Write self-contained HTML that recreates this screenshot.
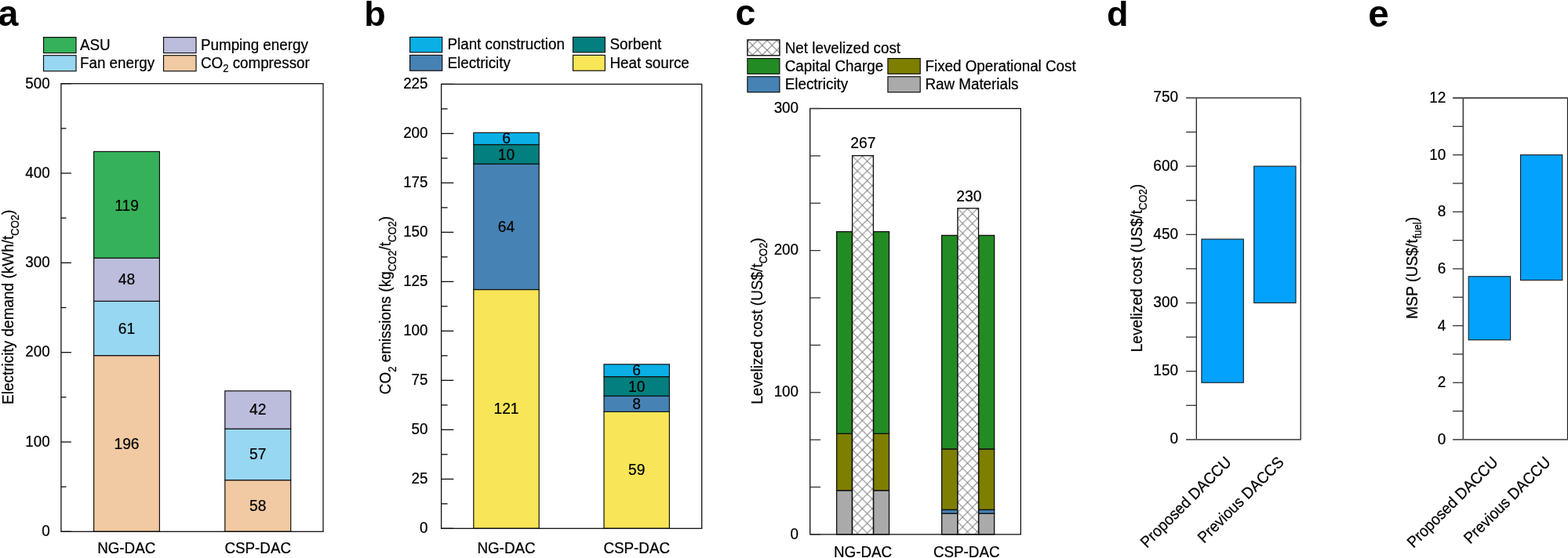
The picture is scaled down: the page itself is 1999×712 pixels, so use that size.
<!DOCTYPE html>
<html><head><meta charset="utf-8"><title>Figure</title>
<style>
html,body{margin:0;padding:0;background:#fff;width:1999px;height:712px;overflow:hidden;}
svg{display:block;font-family:'Liberation Sans', Arial, Helvetica, sans-serif;}
svg text{fill:#000;}
svg text:not([font-weight]){stroke:#000;stroke-width:0.22px;}
</style></head><body>
<svg width="1999" height="712" viewBox="0 0 1999 712">
<rect width="1999" height="712" fill="#fff"/>
<text x="-2.60" y="33.30" font-size="46.5" font-weight="bold" >a</text>
<text x="464.30" y="33.00" font-size="45" font-weight="bold" >b</text>
<text x="937.60" y="32.20" font-size="46.5" font-weight="bold" >c</text>
<text x="1411.00" y="33.30" font-size="45" font-weight="bold" >d</text>
<text x="1744.20" y="34.10" font-size="47.5" font-weight="bold" >e</text>
<rect x="55.50" y="47.60" width="41.50" height="20.00" fill="#35b159" stroke="#111" stroke-width="1.2" />
<rect x="55.50" y="70.70" width="41.50" height="20.00" fill="#98d7f1" stroke="#111" stroke-width="1.2" />
<rect x="208.50" y="47.60" width="41.50" height="20.00" fill="#bcbcdc" stroke="#111" stroke-width="1.2" />
<rect x="208.50" y="70.70" width="41.50" height="20.00" fill="#f1c9a2" stroke="#111" stroke-width="1.2" />
<text transform="translate(102.00,63.80) scale(1,1.06)" font-size="18.8" >ASU</text>
<text transform="translate(102.00,86.80) scale(1,1.06)" font-size="18.8" >Fan energy</text>
<text transform="translate(256.00,63.80) scale(1,1.06)" font-size="18.8" >Pumping energy</text>
<text transform="translate(256.00,86.80) scale(1,1.06)" font-size="18.8" >CO<tspan font-size="13" dy="5">2</tspan><tspan dy="-5"> compressor</tspan></text>
<rect x="119.60" y="453.60" width="83.80" height="224.70" fill="#f1c9a2" stroke="#111" stroke-width="1.2" />
<rect x="119.60" y="384.30" width="83.80" height="69.30" fill="#98d7f1" stroke="#111" stroke-width="1.2" />
<rect x="119.60" y="329.20" width="83.80" height="55.10" fill="#bcbcdc" stroke="#111" stroke-width="1.2" />
<rect x="119.60" y="193.40" width="83.80" height="135.80" fill="#35b159" stroke="#111" stroke-width="1.2" />
<text transform="translate(161.50,572.85) scale(1,1.06)" font-size="19.2" text-anchor="middle" >196</text>
<text transform="translate(161.50,425.75) scale(1,1.06)" font-size="19.2" text-anchor="middle" >61</text>
<text transform="translate(161.50,363.25) scale(1,1.06)" font-size="19.2" text-anchor="middle" >48</text>
<text transform="translate(161.50,269.30) scale(1,1.06)" font-size="19.2" text-anchor="middle" >119</text>
<rect x="286.80" y="612.60" width="83.90" height="65.70" fill="#f1c9a2" stroke="#111" stroke-width="1.2" />
<rect x="286.80" y="547.20" width="83.90" height="65.40" fill="#98d7f1" stroke="#111" stroke-width="1.2" />
<rect x="286.80" y="498.80" width="83.90" height="48.40" fill="#bcbcdc" stroke="#111" stroke-width="1.2" />
<text transform="translate(328.75,652.25) scale(1,1.06)" font-size="19.2" text-anchor="middle" >58</text>
<text transform="translate(328.75,586.40) scale(1,1.06)" font-size="19.2" text-anchor="middle" >57</text>
<text transform="translate(328.75,529.20) scale(1,1.06)" font-size="19.2" text-anchor="middle" >42</text>
<rect x="77.9" y="106.7" width="334.10" height="571.60" fill="none" stroke="#111" stroke-width="1.3"/>
<line x1="77.90" y1="678.30" x2="90.90" y2="678.30" stroke="#111" stroke-width="1.3"/>
<text transform="translate(63.60,684.10) scale(1,1.06)" font-size="18.8" text-anchor="end" >0</text>
<line x1="77.90" y1="621.14" x2="84.40" y2="621.14" stroke="#111" stroke-width="1.3"/>
<line x1="77.90" y1="563.98" x2="90.90" y2="563.98" stroke="#111" stroke-width="1.3"/>
<text transform="translate(63.60,569.78) scale(1,1.06)" font-size="18.8" text-anchor="end" >100</text>
<line x1="77.90" y1="506.82" x2="84.40" y2="506.82" stroke="#111" stroke-width="1.3"/>
<line x1="77.90" y1="449.66" x2="90.90" y2="449.66" stroke="#111" stroke-width="1.3"/>
<text transform="translate(63.60,455.46) scale(1,1.06)" font-size="18.8" text-anchor="end" >200</text>
<line x1="77.90" y1="392.50" x2="84.40" y2="392.50" stroke="#111" stroke-width="1.3"/>
<line x1="77.90" y1="335.34" x2="90.90" y2="335.34" stroke="#111" stroke-width="1.3"/>
<text transform="translate(63.60,341.14) scale(1,1.06)" font-size="18.8" text-anchor="end" >300</text>
<line x1="77.90" y1="278.18" x2="84.40" y2="278.18" stroke="#111" stroke-width="1.3"/>
<line x1="77.90" y1="221.02" x2="90.90" y2="221.02" stroke="#111" stroke-width="1.3"/>
<text transform="translate(63.60,226.82) scale(1,1.06)" font-size="18.8" text-anchor="end" >400</text>
<line x1="77.90" y1="163.86" x2="84.40" y2="163.86" stroke="#111" stroke-width="1.3"/>
<line x1="77.90" y1="106.70" x2="90.90" y2="106.70" stroke="#111" stroke-width="1.3"/>
<text transform="translate(63.60,112.50) scale(1,1.06)" font-size="18.8" text-anchor="end" >500</text>
<text transform="translate(161.20,705.50) scale(1,1.06)" font-size="18.8" text-anchor="middle" >NG-DAC</text>
<text transform="translate(328.70,705.50) scale(1,1.06)" font-size="18.8" text-anchor="middle" >CSP-DAC</text>
<text transform="translate(17.30,391.80) rotate(-90) scale(1,1.07)" font-size="19" text-anchor="middle">Electricity demand (kWh/t<tspan font-size="13" dy="6">CO2</tspan><tspan dy="-6">)</tspan></text>
<rect x="522.60" y="47.40" width="41.10" height="19.40" fill="#0aafe6" stroke="#111" stroke-width="1.2" />
<rect x="522.60" y="70.40" width="41.10" height="19.80" fill="#4782b4" stroke="#111" stroke-width="1.2" />
<rect x="730.50" y="47.40" width="40.80" height="19.40" fill="#027f7e" stroke="#111" stroke-width="1.2" />
<rect x="730.50" y="70.40" width="40.80" height="19.80" fill="#f8e658" stroke="#111" stroke-width="1.2" />
<text transform="translate(570.50,63.10) scale(1,1.06)" font-size="18.8" >Plant construction</text>
<text transform="translate(570.50,86.50) scale(1,1.06)" font-size="18.8" >Electricity</text>
<text transform="translate(777.50,63.10) scale(1,1.06)" font-size="18.8" >Sorbent</text>
<text transform="translate(777.50,86.50) scale(1,1.06)" font-size="18.8" >Heat source</text>
<rect x="603.80" y="369.50" width="83.40" height="304.80" fill="#f8e658" stroke="#111" stroke-width="1.2" />
<rect x="603.80" y="209.20" width="83.40" height="160.30" fill="#4782b4" stroke="#111" stroke-width="1.2" />
<rect x="603.80" y="184.50" width="83.40" height="24.70" fill="#027f7e" stroke="#111" stroke-width="1.2" />
<rect x="603.80" y="169.30" width="83.40" height="15.20" fill="#0aafe6" stroke="#111" stroke-width="1.2" />
<text transform="translate(645.50,528.30) scale(1,1.06)" font-size="19.2" text-anchor="middle" >121</text>
<text transform="translate(645.50,295.85) scale(1,1.06)" font-size="19.2" text-anchor="middle" >64</text>
<text transform="translate(645.50,203.70) scale(1,1.06)" font-size="19.2" text-anchor="middle" >10</text>
<text transform="translate(645.50,182.60) scale(1,1.06)" font-size="19.2" text-anchor="middle" >6</text>
<rect x="770.00" y="525.40" width="83.40" height="148.90" fill="#f8e658" stroke="#111" stroke-width="1.2" />
<rect x="770.00" y="505.30" width="83.40" height="20.10" fill="#4782b4" stroke="#111" stroke-width="1.2" />
<rect x="770.00" y="480.60" width="83.40" height="24.70" fill="#027f7e" stroke="#111" stroke-width="1.2" />
<rect x="770.00" y="464.90" width="83.40" height="15.70" fill="#0aafe6" stroke="#111" stroke-width="1.2" />
<text transform="translate(811.70,605.85) scale(1,1.06)" font-size="19.2" text-anchor="middle" >59</text>
<text transform="translate(811.70,521.85) scale(1,1.06)" font-size="19.2" text-anchor="middle" >8</text>
<text transform="translate(811.70,500.05) scale(1,1.06)" font-size="19.2" text-anchor="middle" >10</text>
<text transform="translate(811.70,478.95) scale(1,1.06)" font-size="19.2" text-anchor="middle" >6</text>
<rect x="562.6" y="107.4" width="332.10" height="566.90" fill="none" stroke="#111" stroke-width="1.3"/>
<line x1="562.60" y1="674.30" x2="578.30" y2="674.30" stroke="#111" stroke-width="1.3"/>
<text transform="translate(545.50,679.90) scale(1,1.06)" font-size="18.8" text-anchor="end" >0</text>
<line x1="562.60" y1="642.81" x2="570.60" y2="642.81" stroke="#111" stroke-width="1.3"/>
<line x1="562.60" y1="611.31" x2="578.30" y2="611.31" stroke="#111" stroke-width="1.3"/>
<text transform="translate(545.50,616.91) scale(1,1.06)" font-size="18.8" text-anchor="end" >25</text>
<line x1="562.60" y1="579.82" x2="570.60" y2="579.82" stroke="#111" stroke-width="1.3"/>
<line x1="562.60" y1="548.32" x2="578.30" y2="548.32" stroke="#111" stroke-width="1.3"/>
<text transform="translate(545.50,553.92) scale(1,1.06)" font-size="18.8" text-anchor="end" >50</text>
<line x1="562.60" y1="516.83" x2="570.60" y2="516.83" stroke="#111" stroke-width="1.3"/>
<line x1="562.60" y1="485.33" x2="578.30" y2="485.33" stroke="#111" stroke-width="1.3"/>
<text transform="translate(545.50,490.93) scale(1,1.06)" font-size="18.8" text-anchor="end" >75</text>
<line x1="562.60" y1="453.84" x2="570.60" y2="453.84" stroke="#111" stroke-width="1.3"/>
<line x1="562.60" y1="422.34" x2="578.30" y2="422.34" stroke="#111" stroke-width="1.3"/>
<text transform="translate(545.50,427.94) scale(1,1.06)" font-size="18.8" text-anchor="end" >100</text>
<line x1="562.60" y1="390.85" x2="570.60" y2="390.85" stroke="#111" stroke-width="1.3"/>
<line x1="562.60" y1="359.36" x2="578.30" y2="359.36" stroke="#111" stroke-width="1.3"/>
<text transform="translate(545.50,364.96) scale(1,1.06)" font-size="18.8" text-anchor="end" >125</text>
<line x1="562.60" y1="327.86" x2="570.60" y2="327.86" stroke="#111" stroke-width="1.3"/>
<line x1="562.60" y1="296.37" x2="578.30" y2="296.37" stroke="#111" stroke-width="1.3"/>
<text transform="translate(545.50,301.97) scale(1,1.06)" font-size="18.8" text-anchor="end" >150</text>
<line x1="562.60" y1="264.87" x2="570.60" y2="264.87" stroke="#111" stroke-width="1.3"/>
<line x1="562.60" y1="233.38" x2="578.30" y2="233.38" stroke="#111" stroke-width="1.3"/>
<text transform="translate(545.50,238.98) scale(1,1.06)" font-size="18.8" text-anchor="end" >175</text>
<line x1="562.60" y1="201.88" x2="570.60" y2="201.88" stroke="#111" stroke-width="1.3"/>
<line x1="562.60" y1="170.39" x2="578.30" y2="170.39" stroke="#111" stroke-width="1.3"/>
<text transform="translate(545.50,175.99) scale(1,1.06)" font-size="18.8" text-anchor="end" >200</text>
<line x1="562.60" y1="138.89" x2="570.60" y2="138.89" stroke="#111" stroke-width="1.3"/>
<line x1="562.60" y1="107.40" x2="578.30" y2="107.40" stroke="#111" stroke-width="1.3"/>
<text transform="translate(545.50,113.00) scale(1,1.06)" font-size="18.8" text-anchor="end" >225</text>
<text transform="translate(645.50,705.50) scale(1,1.06)" font-size="18.8" text-anchor="middle" >NG-DAC</text>
<text transform="translate(811.70,705.50) scale(1,1.06)" font-size="18.8" text-anchor="middle" >CSP-DAC</text>
<text transform="translate(498.40,389.60) rotate(-90) scale(1,1.07)" font-size="19" text-anchor="middle">CO<tspan font-size="13" dy="6">2</tspan><tspan dy="-6"> emissions (kg</tspan><tspan font-size="13" dy="6">CO2</tspan><tspan dy="-6">/t</tspan><tspan font-size="13" dy="6">CO2</tspan><tspan dy="-6">)</tspan></text>
<defs>
<pattern id="h1" patternUnits="userSpaceOnUse" x="1086.86" y="199.35" width="12.49" height="12.49"><rect width="12.49" height="12.49" fill="#fff"/><path d="M-6.245,-6.245 L18.735,18.735 M18.735,-6.245 L-6.245,18.735 M-6.245,6.245 L6.245,-6.245 M6.245,18.735 L18.735,6.245 M-6.245,6.245 L6.245,18.735 M6.245,-6.245 L18.735,6.245" stroke="#858585" stroke-width="1.05" fill="none"/></pattern>
<pattern id="h2" patternUnits="userSpaceOnUse" x="1220.96" y="266.36" width="12.49" height="12.49"><rect width="12.49" height="12.49" fill="#fff"/><path d="M-6.245,-6.245 L18.735,18.735 M18.735,-6.245 L-6.245,18.735 M-6.245,6.245 L6.245,-6.245 M6.245,18.735 L18.735,6.245 M-6.245,6.245 L6.245,18.735 M6.245,-6.245 L18.735,6.245" stroke="#858585" stroke-width="1.05" fill="none"/></pattern>
<pattern id="h3" patternUnits="userSpaceOnUse" x="953.20" y="51.60" width="12.4" height="12.4"><rect width="12.4" height="12.4" fill="#fff"/><path d="M-6.2,-6.2 L18.6,18.6 M18.6,-6.2 L-6.2,18.6 M-6.2,6.2 L6.2,-6.2 M6.2,18.6 L18.6,6.2 M-6.2,6.2 L6.2,18.6 M6.2,-6.2 L18.6,6.2" stroke="#7d7d7d" stroke-width="1.15" fill="none"/></pattern>
</defs>
<rect x="952.90" y="50.90" width="41.00" height="19.90" fill="url(#h3)" stroke="#1a1a1a" stroke-width="1.5" />
<rect x="952.90" y="74.60" width="41.00" height="19.70" fill="#238b23" stroke="#111" stroke-width="1.2" />
<rect x="952.90" y="97.80" width="41.00" height="19.80" fill="#4682b4" stroke="#111" stroke-width="1.2" />
<rect x="1131.90" y="74.60" width="41.30" height="19.70" fill="#7e7e00" stroke="#111" stroke-width="1.2" />
<rect x="1131.90" y="97.80" width="41.30" height="19.80" fill="#aaaaaa" stroke="#111" stroke-width="1.2" />
<text transform="translate(1000.80,68.00) scale(1,1.06)" font-size="18.8" >Net levelized cost</text>
<text transform="translate(1000.80,90.80) scale(1,1.06)" font-size="18.8" >Capital Charge</text>
<text transform="translate(1000.80,113.80) scale(1,1.06)" font-size="18.8" >Electricity</text>
<text transform="translate(1179.50,90.80) scale(1,1.06)" font-size="18.8" >Fixed Operational Cost</text>
<text transform="translate(1179.50,113.80) scale(1,1.06)" font-size="18.8" >Raw Materials</text>
<rect x="1066.60" y="625.80" width="19.70" height="56.10" fill="#aaaaaa" stroke="#111" stroke-width="1.35" />
<rect x="1066.60" y="553.30" width="19.70" height="72.50" fill="#7e7e00" stroke="#111" stroke-width="1.35" />
<rect x="1066.60" y="295.60" width="19.70" height="257.70" fill="#238b23" stroke="#111" stroke-width="1.35" />
<rect x="1113.60" y="625.80" width="19.90" height="56.10" fill="#aaaaaa" stroke="#111" stroke-width="1.35" />
<rect x="1113.60" y="553.30" width="19.90" height="72.50" fill="#7e7e00" stroke="#111" stroke-width="1.35" />
<rect x="1113.60" y="295.60" width="19.90" height="257.70" fill="#238b23" stroke="#111" stroke-width="1.35" />
<rect x="1200.60" y="655.20" width="20.10" height="26.70" fill="#aaaaaa" stroke="#111" stroke-width="1.35" />
<rect x="1200.60" y="650.40" width="20.10" height="4.80" fill="#4682b4" stroke="#111" stroke-width="1.35" />
<rect x="1200.60" y="572.90" width="20.10" height="77.50" fill="#7e7e00" stroke="#111" stroke-width="1.35" />
<rect x="1200.60" y="300.40" width="20.10" height="272.50" fill="#238b23" stroke="#111" stroke-width="1.35" />
<rect x="1247.60" y="655.20" width="20.00" height="26.70" fill="#aaaaaa" stroke="#111" stroke-width="1.35" />
<rect x="1247.60" y="650.40" width="20.00" height="4.80" fill="#4682b4" stroke="#111" stroke-width="1.35" />
<rect x="1247.60" y="572.90" width="20.00" height="77.50" fill="#7e7e00" stroke="#111" stroke-width="1.35" />
<rect x="1247.60" y="300.40" width="20.00" height="272.50" fill="#238b23" stroke="#111" stroke-width="1.35" />
<rect x="1086.60" y="198.60" width="26.80" height="483.30" fill="url(#h1)" stroke="#111" stroke-width="1.35" />
<rect x="1220.90" y="265.80" width="26.60" height="416.10" fill="url(#h2)" stroke="#111" stroke-width="1.35" />
<text transform="translate(1100.30,188.80) scale(1,1.06)" font-size="19.3" text-anchor="middle" >267</text>
<text transform="translate(1235.40,256.50) scale(1,1.06)" font-size="19.3" text-anchor="middle" >230</text>
<rect x="1032.7" y="138.5" width="268.60" height="543.40" fill="none" stroke="#111" stroke-width="1.3"/>
<line x1="1032.70" y1="681.90" x2="1046.00" y2="681.90" stroke="#333" stroke-width="1.3"/>
<text transform="translate(1018.00,687.50) scale(1,1.06)" font-size="18.8" text-anchor="end" >0</text>
<line x1="1032.70" y1="621.52" x2="1046.00" y2="621.52" stroke="#333" stroke-width="1.3"/>
<line x1="1032.70" y1="561.14" x2="1046.00" y2="561.14" stroke="#333" stroke-width="1.3"/>
<line x1="1032.70" y1="500.77" x2="1046.00" y2="500.77" stroke="#333" stroke-width="1.3"/>
<text transform="translate(1018.00,506.37) scale(1,1.06)" font-size="18.8" text-anchor="end" >100</text>
<line x1="1032.70" y1="440.39" x2="1046.00" y2="440.39" stroke="#333" stroke-width="1.3"/>
<line x1="1032.70" y1="380.01" x2="1046.00" y2="380.01" stroke="#333" stroke-width="1.3"/>
<line x1="1032.70" y1="319.63" x2="1046.00" y2="319.63" stroke="#333" stroke-width="1.3"/>
<text transform="translate(1018.00,325.23) scale(1,1.06)" font-size="18.8" text-anchor="end" >200</text>
<line x1="1032.70" y1="259.26" x2="1046.00" y2="259.26" stroke="#333" stroke-width="1.3"/>
<line x1="1032.70" y1="198.88" x2="1046.00" y2="198.88" stroke="#333" stroke-width="1.3"/>
<line x1="1032.70" y1="138.50" x2="1046.00" y2="138.50" stroke="#333" stroke-width="1.3"/>
<text transform="translate(1018.00,144.10) scale(1,1.06)" font-size="18.8" text-anchor="end" >300</text>
<text transform="translate(1100.10,710.60) scale(1,1.06)" font-size="18.8" text-anchor="middle" >NG-DAC</text>
<text transform="translate(1232.20,710.60) scale(1,1.06)" font-size="18.8" text-anchor="middle" >CSP-DAC</text>
<text transform="translate(971.60,409.50) rotate(-90) scale(1,1.07)" font-size="19" text-anchor="middle">Levelized cost (US$/t<tspan font-size="13" dy="5.7">CO2</tspan><tspan dy="-5.7">)</tspan></text>
<rect x="1531.90" y="305.11" width="53.40" height="183.12" fill="#02a2fd" stroke="#1a1a1a" stroke-width="1.1" />
<rect x="1598.70" y="212.10" width="53.30" height="174.40" fill="#02a2fd" stroke="#1a1a1a" stroke-width="1.1" />
<line x1="1525.30" y1="124.90" x2="1525.30" y2="560.90" stroke="#222" stroke-width="1.3"/>
<line x1="1658.20" y1="124.90" x2="1658.20" y2="560.90" stroke="#222" stroke-width="1.3"/>
<line x1="1512.10" y1="124.90" x2="1658.80" y2="124.90" stroke="#555" stroke-width="1.8"/>
<line x1="1512.10" y1="560.90" x2="1658.80" y2="560.90" stroke="#555" stroke-width="1.8"/>
<text transform="translate(1502.00,566.30) scale(1,1.06)" font-size="19" text-anchor="end" >0</text>
<line x1="1512.10" y1="517.30" x2="1525.30" y2="517.30" stroke="#333" stroke-width="1.3"/>
<line x1="1512.10" y1="473.70" x2="1525.30" y2="473.70" stroke="#333" stroke-width="1.3"/>
<text transform="translate(1502.00,479.10) scale(1,1.06)" font-size="19" text-anchor="end" >150</text>
<line x1="1512.10" y1="430.10" x2="1525.30" y2="430.10" stroke="#333" stroke-width="1.3"/>
<line x1="1512.10" y1="386.50" x2="1525.30" y2="386.50" stroke="#333" stroke-width="1.3"/>
<text transform="translate(1502.00,391.90) scale(1,1.06)" font-size="19" text-anchor="end" >300</text>
<line x1="1512.10" y1="342.90" x2="1525.30" y2="342.90" stroke="#333" stroke-width="1.3"/>
<line x1="1512.10" y1="299.30" x2="1525.30" y2="299.30" stroke="#333" stroke-width="1.3"/>
<text transform="translate(1502.00,304.70) scale(1,1.06)" font-size="19" text-anchor="end" >450</text>
<line x1="1512.10" y1="255.70" x2="1525.30" y2="255.70" stroke="#333" stroke-width="1.3"/>
<line x1="1512.10" y1="212.10" x2="1525.30" y2="212.10" stroke="#333" stroke-width="1.3"/>
<text transform="translate(1502.00,217.50) scale(1,1.06)" font-size="19" text-anchor="end" >600</text>
<line x1="1512.10" y1="168.50" x2="1525.30" y2="168.50" stroke="#333" stroke-width="1.3"/>
<text transform="translate(1502.00,130.30) scale(1,1.06)" font-size="19" text-anchor="end" >750</text>
<text transform="translate(1456.00,342.10) rotate(-90) scale(1,1.07)" font-size="19.2" text-anchor="middle">Levelized cost (US$/t<tspan font-size="13" dy="5.2">CO2</tspan><tspan dy="-5.2">)</tspan></text>
<text transform="translate(1571,591) rotate(-45) scale(1,1.06)" font-size="19" text-anchor="end">Proposed DACCU</text>
<text transform="translate(1638,591) rotate(-45) scale(1,1.06)" font-size="19" text-anchor="end">Previous DACCS</text>
<rect x="1872.20" y="352.76" width="53.40" height="81.00" fill="#02a2fd" stroke="#1a1a1a" stroke-width="1.1" />
<rect x="1938.50" y="197.65" width="53.30" height="159.83" fill="#02a2fd" stroke="#1a1a1a" stroke-width="1.1" />
<line x1="1865.30" y1="125.00" x2="1865.30" y2="560.90" stroke="#222" stroke-width="1.3"/>
<line x1="1998.50" y1="125.00" x2="1998.50" y2="560.90" stroke="#222" stroke-width="1.3"/>
<line x1="1852.10" y1="125.00" x2="1999.10" y2="125.00" stroke="#555" stroke-width="1.8"/>
<line x1="1852.10" y1="560.90" x2="1999.10" y2="560.90" stroke="#555" stroke-width="1.8"/>
<text transform="translate(1843.30,566.90) scale(1,1.06)" font-size="19" text-anchor="end" >0</text>
<line x1="1852.10" y1="524.57" x2="1865.30" y2="524.57" stroke="#333" stroke-width="1.3"/>
<line x1="1852.10" y1="488.25" x2="1865.30" y2="488.25" stroke="#333" stroke-width="1.3"/>
<text transform="translate(1843.30,494.25) scale(1,1.06)" font-size="19" text-anchor="end" >2</text>
<line x1="1852.10" y1="451.93" x2="1865.30" y2="451.93" stroke="#333" stroke-width="1.3"/>
<line x1="1852.10" y1="415.60" x2="1865.30" y2="415.60" stroke="#333" stroke-width="1.3"/>
<text transform="translate(1843.30,421.60) scale(1,1.06)" font-size="19" text-anchor="end" >4</text>
<line x1="1852.10" y1="379.27" x2="1865.30" y2="379.27" stroke="#333" stroke-width="1.3"/>
<line x1="1852.10" y1="342.95" x2="1865.30" y2="342.95" stroke="#333" stroke-width="1.3"/>
<text transform="translate(1843.30,348.95) scale(1,1.06)" font-size="19" text-anchor="end" >6</text>
<line x1="1852.10" y1="306.62" x2="1865.30" y2="306.62" stroke="#333" stroke-width="1.3"/>
<line x1="1852.10" y1="270.30" x2="1865.30" y2="270.30" stroke="#333" stroke-width="1.3"/>
<text transform="translate(1843.30,276.30) scale(1,1.06)" font-size="19" text-anchor="end" >8</text>
<line x1="1852.10" y1="233.97" x2="1865.30" y2="233.97" stroke="#333" stroke-width="1.3"/>
<line x1="1852.10" y1="197.65" x2="1865.30" y2="197.65" stroke="#333" stroke-width="1.3"/>
<text transform="translate(1843.30,203.65) scale(1,1.06)" font-size="19" text-anchor="end" >10</text>
<line x1="1852.10" y1="161.32" x2="1865.30" y2="161.32" stroke="#333" stroke-width="1.3"/>
<text transform="translate(1843.30,131.00) scale(1,1.06)" font-size="19" text-anchor="end" >12</text>
<text transform="translate(1807.30,342.00) rotate(-90) scale(1,1.07)" font-size="19.4" text-anchor="middle">MSP (US$/t<tspan font-size="13" dy="4.6" dx="0.8">fuel</tspan><tspan dy="-4.6">)</tspan></text>
<text transform="translate(1911,591) rotate(-45) scale(1,1.06)" font-size="19" text-anchor="end">Proposed DACCU</text>
<text transform="translate(1978,591) rotate(-45) scale(1,1.06)" font-size="19" text-anchor="end">Previous DACCU</text>
</svg>
</body></html>
